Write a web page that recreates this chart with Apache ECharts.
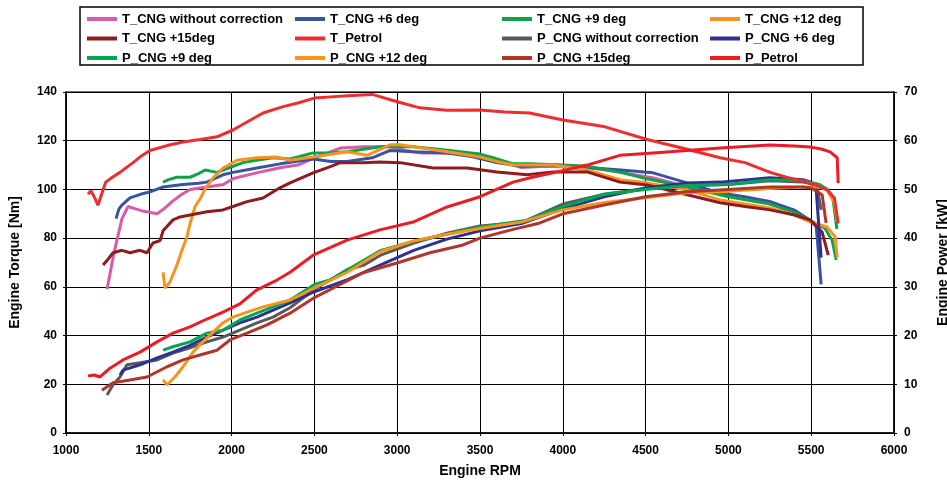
<!DOCTYPE html>
<html>
<head>
<meta charset="utf-8">
<title>Engine torque and power</title>
<script src="https://cdn.jsdelivr.net/npm/echarts@6/dist/echarts.min.js"></script>
<style>
  html, body { margin: 0; padding: 0; background: #fff; }
</style>
</head>
<body>
<!-- chart container -->
<div id="container" style="width: 947px;height:481px;"></div>
<script>
  // torque curves [rpm, Nm] (left axis)
  var tNoCorr = [[1248,59],[1290,74],[1338,88],[1375,93],[1420,92],[1470,91],[1550,90],[1600,92.5],[1640,95],[1700,98],[1750,100],[1850,101],[1950,102],[2010,104.5],[2150,106.8],[2300,109],[2400,110],[2500,113],[2600,115.5],[2660,117],[2800,117.5],[2960,117.5],[3050,116],[3140,115],[3300,115],[3460,114],[3600,112],[3700,110],[3750,109],[3900,109.5],[4150,109],[4350,107],[4550,104.7],[4750,101],[4950,98.5],[5100,96.5],[5250,95],[5400,91],[5500,87],[5530,85],[5550,78]];
  var t6 = [[1302,88],[1320,92],[1338,93.6],[1386,96.5],[1450,98],[1507,99],[1586,101],[1707,102],[1800,102.5],[1851,103],[1948,106],[2008,107],[2153,108.8],[2292,110.5],[2492,112.5],[2600,111.5],[2697,111.5],[2850,113],[2957,116],[3096,115.5],[3301,115],[3450,113.5],[3600,111],[3750,109.5],[3950,110],[4146,109],[4350,108],[4545,106.8],[4750,102.7],[4950,98.5],[5100,97],[5252,95],[5400,91.5],[5500,87],[5530,85],[5560,61]];
  var t9 = [[1586,103],[1620,104],[1670,105],[1749,105],[1800,106.5],[1840,108],[1912,107],[1990,109],[2069,111],[2150,112],[2250,113],[2353,112.5],[2492,115],[2600,115],[2697,115.5],[2896,117.5],[3096,117.5],[3250,116.5],[3379,115.5],[3500,114.5],[3579,113],[3700,110.5],[3800,110.5],[4000,110],[4150,109.5],[4350,107],[4500,104.5],[4750,101],[5000,97],[5250,94],[5400,90.5],[5500,87],[5584,84],[5627,79],[5651,71]];
  var t12 = [[1586,66],[1598,59.5],[1628,62],[1670,69],[1700,75],[1730,80.5],[1749,86],[1779,93],[1809,96],[1839,100],[1888,104.7],[1948,108.8],[2033,112],[2153,113],[2274,113.3],[2353,112],[2492,113.3],[2697,115.5],[2818,114],[2957,118.3],[3017,118.3],[3150,117],[3301,115.5],[3500,113.3],[3600,111.5],[3700,110],[3941,110],[4146,108],[4345,104],[4509,102.7],[4750,99.8],[4950,95.7],[5100,94],[5252,92.4],[5400,89.5],[5500,86.5],[5596,84.6],[5645,80.5],[5657,72]];
  var t15 = [[1224,69],[1250,71],[1284,74],[1338,75],[1386,74],[1447,75],[1489,74],[1525,78],[1568,79],[1586,83],[1646,87.5],[1689,88.7],[1749,89.5],[1851,90.8],[1948,91.6],[2008,93],[2093,95],[2190,96.5],[2274,100],[2353,102.7],[2492,106.8],[2600,109.5],[2655,111],[2794,111],[2896,111.3],[3017,111],[3217,108.8],[3422,108.8],[3603,107.2],[3784,106],[3941,107.2],[4146,107.2],[4345,103],[4509,101.8],[4708,98.5],[4950,94.5],[5100,93],[5252,91.6],[5400,89.5],[5493,87.5],[5566,82.5],[5603,73]];
  var tPetrol = [[1133,98],[1150,99.5],[1170,97],[1193,93.5],[1215,98],[1240,103],[1280,105],[1326,107],[1405,111],[1450,113.5],[1507,116],[1610,118],[1707,119.5],[1809,120.5],[1912,121.6],[2008,124.4],[2093,127.7],[2190,131.4],[2311,134],[2400,135.5],[2500,137.5],[2600,138],[2700,138.5],[2850,139],[2900,138],[3000,136],[3137,133.5],[3300,132.5],[3500,132.6],[3650,131.8],[3800,131.4],[4000,128.5],[4255,125.7],[4509,120.5],[4750,116.5],[4950,113],[5100,111],[5252,107],[5350,105],[5493,102.7],[5596,99.8],[5640,96.5],[5663,86]];

  // power curves [rpm, kW] (right axis)
  var pNoCorr = [[1248,7.8],[1284,9.9],[1326,11.5],[1368,14],[1447,14.4],[1550,15],[1646,16.4],[1749,17.5],[1851,18.7],[1948,19.7],[2050,21.1],[2153,22.6],[2250,23.8],[2353,25.7],[2500,29.5],[2697,33.5],[2800,34.5],[2900,36.5],[3100,39],[3300,41],[3500,42.5],[3750,43.2],[4000,47],[4250,49],[4500,50.2],[4750,50.8],[5000,51],[5250,51.8],[5450,51.5],[5520,51],[5540,49.5],[5560,45.8]];
  var p6 = [[1326,11.9],[1344,12.9],[1447,14],[1550,15.4],[1646,16.6],[1749,18],[1851,19.7],[1948,21.1],[2050,22.6],[2153,23.8],[2353,26.7],[2500,29],[2700,31.5],[2900,34.5],[3100,37.5],[3300,39.8],[3500,41.5],[3750,43],[4000,46],[4250,48.5],[4500,50.3],[4750,51.3],[4950,51.5],[5250,52.4],[5450,52],[5500,51.5],[5530,50],[5560,36]];
  var p9 = [[1586,17],[1646,17.7],[1749,18.7],[1851,20.5],[1948,21.1],[2050,23.2],[2153,24.6],[2250,25.9],[2353,27.3],[2500,30.5],[2594,31.4],[2700,33.5],[2896,37.4],[3096,39.3],[3301,40.8],[3500,42.3],[3784,43.7],[4000,46.5],[4250,49],[4500,50],[4750,50.8],[5000,51],[5250,52],[5450,51.8],[5550,51],[5600,50],[5630,48.5],[5655,41.9]];
  var p12 = [[1586,10.9],[1610,9.9],[1658,11.5],[1707,13.6],[1767,16.6],[1827,18.7],[1888,20.7],[1948,22.6],[2008,23.8],[2093,24.8],[2190,25.9],[2353,27.3],[2500,29.8],[2700,33],[2896,37.2],[3096,39.4],[3301,40.8],[3500,42],[3750,43.3],[4000,45.8],[4250,47.3],[4500,48.3],[4750,49.3],[5000,49.6],[5250,50.2],[5450,50.5],[5550,50.5],[5596,49.9],[5640,47.2],[5657,43.3]];
  var p15 = [[1217,8.8],[1284,10.3],[1386,10.9],[1489,11.5],[1610,13.6],[1707,15],[1809,16],[1912,17],[1990,19.1],[2093,20.5],[2214,22.2],[2353,24.6],[2500,27.8],[2794,32.9],[2999,34.9],[3198,37],[3398,38.6],[3500,40],[3700,41.8],[3850,43],[4000,45],[4250,46.8],[4500,48.5],[4750,49.5],[5000,50],[5250,50.5],[5450,50.5],[5500,50.3],[5566,48.9],[5590,43.1]];
  var pPetrol = [[1133,11.7],[1170,11.9],[1205,11.5],[1266,13.3],[1344,15],[1447,16.6],[1550,18.7],[1646,20.5],[1749,21.8],[1851,23.4],[1948,24.8],[2050,26.5],[2153,29.4],[2274,31.4],[2353,33],[2492,36.5],[2697,39.6],[2896,41.7],[3096,43.3],[3301,46.4],[3500,48.5],[3700,51.5],[3803,52.4],[3941,53.4],[4146,55],[4345,57],[4545,57.5],[4750,58],[4950,58.5],[5100,58.8],[5252,59.1],[5400,58.9],[5493,58.7],[5560,58.3],[5614,57.7],[5657,56.5],[5663,51.3]];

  var names = ['T_CNG without correction', 'T_CNG +6 deg', 'T_CNG +9 deg', 'T_CNG +12 deg', 'T_CNG +15deg', 'T_Petrol',
    'P_CNG without correction', 'P_CNG +6 deg', 'P_CNG +9 deg', 'P_CNG +12 deg', 'P_CNG +15deg', 'P_Petrol'];
  var colors = ['#d95ba8', '#3853a4', '#12a14b', '#f7941e', '#8e1b1e', '#ee2d2f',
    '#58595b', '#2e3192', '#00a651', '#f7941e', '#b2352b', '#ed1c24'];
  var curves = [tNoCorr, t6, t9, t12, t15, tPetrol, pNoCorr, p6, p9, p12, p15, pPetrol];
  var rpmTicks = [1000, 6000, 500];

  var font = '"Liberation Sans", Arial, sans-serif';
  var myChart = echarts.init(document.getElementById('container'));

  var series = curves.map(function (d, i) {
    return {
      name: names[i],
      type: 'line',
      yAxisIndex: i < 6 ? 0 : 1,
      data: d,
      symbol: 'none',
      showSymbol: false,
      color: colors[i],
      lineStyle: {width: 3, color: colors[i]},
      z: i == 5 || i == 11 ? 5 : 3
    };
  });

  // legend laid out as 4 columns of 3 rows
  var legendText = {fontFamily: font, fontWeight: 'bold', fontSize: 13, color: '#000', lineHeight: 14};
  var cols = [82, 290, 497, 705];
  var legends = cols.map(function (x, c) {
    return {
      left: x, top: 7, orient: 'vertical',
      itemGap: 5.5, itemWidth: 30, itemHeight: 4, icon: 'rect',
      selectedMode: false,
      textStyle: legendText,
      data: [names[c], names[c + 4], names[c + 8]]
    };
  });

  myChart.setOption({
    animation: false,
    backgroundColor: '#fff',
    graphic: [{
      type: 'rect', z: -1,
      shape: {x: 80, y: 7, width: 783, height: 58},
      style: {fill: '#fff', stroke: '#000', lineWidth: 1.5}
    }],
    legend: legends,
    grid: {left: 66, right: 53, top: 92, bottom: 48, show: true, borderColor: '#444', borderWidth: 1.5,
      outerBoundsMode: 'none', containLabel: false},
    xAxis: {
      type: 'value', min: rpmTicks[0], max: rpmTicks[1], interval: rpmTicks[2],
      name: 'Engine RPM', nameLocation: 'middle', nameGap: 31,
      nameTextStyle: {fontFamily: font, fontWeight: 'bold', fontSize: 14, color: '#000'},
      axisLine: {lineStyle: {color: '#000', width: 1.5}},
      axisTick: {show: true, length: 3, lineStyle: {color: '#000'}},
      axisLabel: {fontFamily: font, fontWeight: 'bold', fontSize: 12, color: '#000', margin: 12,
        formatter: function (v) { return String(v); }},
      splitLine: {lineStyle: {color: '#000', width: 1}}
    },
    yAxis: [
      {
        type: 'value', min: 0, max: 140, interval: 20, position: 'left',
        name: 'Engine Torque [Nm]', nameLocation: 'middle', nameGap: 44, nameRotate: 90,
        nameTextStyle: {fontFamily: font, fontWeight: 'bold', fontSize: 14, color: '#000'},
        axisLine: {show: true, lineStyle: {color: '#000', width: 1.5}},
        axisTick: {show: true, length: 3, lineStyle: {color: '#000'}},
        axisLabel: {fontFamily: font, fontWeight: 'bold', fontSize: 12, color: '#000', margin: 9},
        splitLine: {lineStyle: {color: '#000', width: 1}}
      },
      {
        type: 'value', min: 0, max: 70, interval: 10, position: 'right',
        name: 'Engine Power [kW]', nameLocation: 'middle', nameGap: 42, nameRotate: 90,
        nameTextStyle: {fontFamily: font, fontWeight: 'bold', fontSize: 14, color: '#000'},
        axisLine: {show: true, lineStyle: {color: '#000', width: 1.5}},
        axisTick: {show: true, length: 3, lineStyle: {color: '#000'}},
        axisLabel: {fontFamily: font, fontWeight: 'bold', fontSize: 12, color: '#000', margin: 10},
        splitLine: {show: false}
      }
    ],
    series: series
  });
</script>
</body>
</html>
